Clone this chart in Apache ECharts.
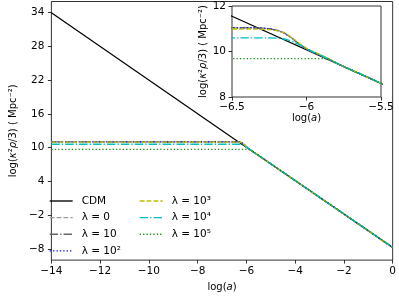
<!DOCTYPE html>
<html><head><meta charset="utf-8">
<script src="https://cdn.jsdelivr.net/npm/echarts@6/dist/echarts.min.js"></script>
<style>html,body{margin:0;padding:0;background:#fff}#c{width:399px;height:297px}</style>
</head><body><div id="c"></div>
<script>
// ---- data ----
const cdmA   = [-14, -6.5, -5.5, 0];
const cdmVal = [34, 11.55, 8.6, -7.75];
const logA   = [-14, -6.5, -6.4, -6.3, -6.25, -6.2, -6.15, -6.1, -6.05, -6.0, -5.95, -5.9, -5.85, -5.8, -5.75, -5.7, -5.6, -5.5, -5.0, 0];
const lam0   = [11.04, 11.04, 11.04, 11.03, 11.0, 10.94, 10.82, 10.6, 10.33, 10.12, 9.96, 9.82, 9.66, 9.49, 9.34, 9.19, 8.9, 8.6, 7.12, -7.75];
const lam10  = [11.04, 11.04, 11.04, 11.03, 11.0, 10.94, 10.82, 10.6, 10.33, 10.12, 9.96, 9.82, 9.66, 9.49, 9.34, 9.19, 8.9, 8.6, 7.12, -7.75];
const lam1e2 = [11.04, 11.04, 11.04, 11.03, 11.0, 10.94, 10.82, 10.6, 10.33, 10.12, 9.96, 9.82, 9.66, 9.49, 9.34, 9.19, 8.9, 8.6, 7.12, -7.75];
const lam1e3 = [10.99, 10.99, 10.99, 10.98, 10.96, 10.92, 10.82, 10.63, 10.36, 10.14, 9.98, 9.84, 9.68, 9.5, 9.34, 9.19, 8.9, 8.6, 7.12, -7.75];
const lam1e4 = [10.6, 10.6, 10.6, 10.6, 10.6, 10.59, 10.55, 10.46, 10.3, 10.12, 9.96, 9.81, 9.66, 9.49, 9.33, 9.19, 8.9, 8.6, 7.12, -7.75];
const lam1e5 = [9.69, 9.69, 9.69, 9.69, 9.69, 9.69, 9.69, 9.69, 9.69, 9.69, 9.69, 9.69, 9.67, 9.5, 9.33, 9.18, 8.9, 8.6, 7.12, -7.75];
const yTicksMain = [-8, -2, 4, 10, 16, 22, 28, 34];
const names = ['CDM', 'λ = 0', 'λ = 10', 'λ = 10²', 'λ = 10³', 'λ = 10⁴', 'λ = 10⁵'];

const FF = 'DejaVu Sans';
const FS = 10.5;
const zip = (xs, ys) => xs.map((x, i) => [x, ys[i]]);
const minus = v => String(v).replace('-', '\u2212');
const LW = 1.35;
const styles = [
  {color: '#000000', type: 'solid'},
  {color: '#999999', type: [4.8, 2.1]},
  {color: '#666666', type: [8.4, 2.1, 1.3, 2.1]},
  {color: '#0000ff', type: [1.3, 2.1]},
  {color: '#bfbf00', type: [4.8, 2.1]},
  {color: '#00bfbf', type: [8.4, 2.1, 1.3, 2.1]},
  {color: '#1a8f1a', type: [1.3, 2.1]}
];
const dataSets = [zip(cdmA, cdmVal), zip(logA, lam0), zip(logA, lam10), zip(logA, lam1e2), zip(logA, lam1e3), zip(logA, lam1e4), zip(logA, lam1e5)];

const series = [];
[0, 1].forEach(g => {
  dataSets.forEach((d, i) => {
    series.push({
      type: 'line', name: names[i], xAxisIndex: g, yAxisIndex: g,
      data: d, symbol: 'none', showSymbol: false, animation: false,
      lineStyle: {color: styles[i].color, type: styles[i].type, width: i === 0 ? 1.2 : LW},
      itemStyle: {color: styles[i].color}, z: (g ? 30 : 2) + i, clip: true
    });
  });
});

const axisCommon = {
  axisLine: {show: false, onZero: false},
  axisTick: {show: true, inside: false, length: 3.5, lineStyle: {color: '#000', width: 0.8}},
  splitLine: {show: false},
  axisLabel: {color: '#000', fontFamily: FF, fontSize: FS, formatter: minus}
};
const rich = {a: {fontFamily: FF, fontSize: 10, color: '#000'}, b: {fontFamily: FF, fontSize: 10, fontStyle: 'italic', color: '#000'}};
const yName = '{a|log(}{b|κ}{a|²}{b|ρ}{a|/3) ( Mpc⁻²)}';
const xName = '{a|log(}{b|a}{a|)}';
const legendCommon = {
  orient: 'vertical', top: 195.5, padding: 0, itemWidth: 23, itemHeight: 12, itemGap: 5.6,
  textStyle: {fontFamily: FF, fontSize: FS, color: '#000', padding: [0, 0, 0, 4]}, selectedMode: false,
  itemStyle: {color: 'transparent', borderWidth: 0, opacity: 0},
  lineStyle: {width: LW}
};

const chart = echarts.init(document.getElementById('c'), null, {renderer: 'canvas'});
chart.setOption({
  backgroundColor: '#fff',
  animation: false,
  grid: [
    {left: 40, right: 4, top: 1.5, bottom: 32.5, show: true, borderColor: '#333', borderWidth: 1, backgroundColor: '#fff', containLabel: false},
    {left: 232, right: 18, top: 6, bottom: 200, show: true, borderColor: '#333', borderWidth: 1, backgroundColor: '#fff', containLabel: false, z: 10}
  ],
  xAxis: [
    Object.assign({}, axisCommon, {gridIndex: 0, type: 'value', min: -14, max: 0, interval: 2,
      axisLabel: Object.assign({}, axisCommon.axisLabel, {margin: 6}),
      name: xName, nameLocation: 'middle', nameGap: 17, nameTextStyle: {rich: rich}}),
    Object.assign({}, axisCommon, {gridIndex: 1, type: 'value', min: -6.5, max: -5.5, interval: 0.5, z: 40,
      axisLabel: Object.assign({}, axisCommon.axisLabel, {margin: 5}),
      name: xName, nameLocation: 'middle', nameGap: 14, nameTextStyle: {rich: rich}})
  ],
  yAxis: [
    Object.assign({}, axisCommon, {gridIndex: 0, type: 'value', min: -10, max: 36,
      axisTick: Object.assign({}, axisCommon.axisTick, {customValues: yTicksMain}),
      axisLabel: Object.assign({}, axisCommon.axisLabel, {customValues: yTicksMain, margin: 7}),
      name: yName, nameLocation: 'middle', nameGap: 30, nameTextStyle: {rich: rich}}),
    Object.assign({}, axisCommon, {gridIndex: 1, type: 'value', min: 8, max: 12, interval: 2, z: 40,
      axisLabel: Object.assign({}, axisCommon.axisLabel, {margin: 6}),
      name: yName, nameLocation: 'middle', nameGap: 24, nameTextStyle: {rich: rich}})
  ],
  legend: [
    Object.assign({}, legendCommon, {data: names.slice(0, 4), left: 49}),
    Object.assign({}, legendCommon, {data: names.slice(4), left: 139})
  ],
  series: series
});
</script></body></html>
